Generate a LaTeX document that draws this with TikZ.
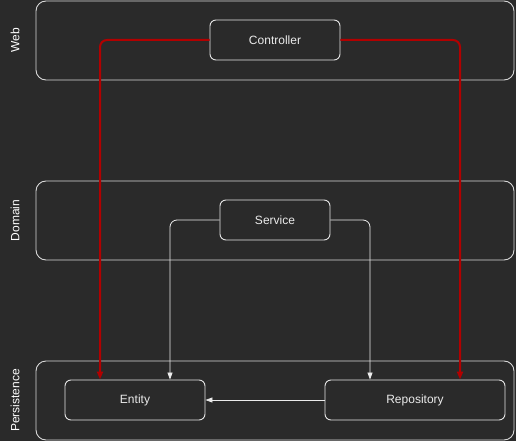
\documentclass[tikz,border=0pt]{standalone}
\usepackage{fontspec}
\setmainfont{Liberation Sans}
\usetikzlibrary{arrows.meta}
\definecolor{bgc}{HTML}{2A2A2A}
\definecolor{redc}{HTML}{B20000}
\tikzset{
  lane/.style={draw=white!85!black, line width=0.9pt, rounded corners=10pt, fill=bgc},
  lanelabel/.style={text=white, font=\fontsize{12}{14}\selectfont, rotate=90},
  box/.style={draw=white!90!black, line width=0.9pt, rounded corners=6pt, text=white!92!black, font=\fontsize{12}{14}\selectfont},
  redarrow/.style={draw=redc, line width=2pt, rounded corners=7pt, -{Triangle[length=8pt,width=6pt]}},
  whitearrow/.style={draw=white!92!black, line width=0.8pt, rounded corners=7pt, -{Triangle[length=7pt,width=5pt]}},
}
\begin{document}
\begin{tikzpicture}[x=1pt,y=-1pt]
\fill[bgc] (0,0) rectangle (516,441);
\useasboundingbox (0,0) rectangle (516,441);
% lanes
\draw[lane] (36,1) rectangle (514,80);
\draw[lane] (36,181) rectangle (514,260);
\draw[lane] (36,361) rectangle (514,440);
\node[lanelabel] (lweb) at (15,40.5) {Web};
\node[lanelabel] (ldom) at (15,220.5) {Domain};
\node[lanelabel] (lper) at (15,400.5) {Persistence};
% nodes
\node[box, minimum width=130pt, minimum height=40pt] (ctrl) at (275,40) {Controller};
\node[box, minimum width=110pt, minimum height=40pt] (svc) at (275,220) {Service};
\node[box, minimum width=140pt, minimum height=40pt] (ent) at (135,400) {Entity};
\node[box, minimum width=180pt, minimum height=40pt] (repo) at (415,400) {Repository};
% connectors
\draw[whitearrow] (svc.west) -| ([xshift=35pt]ent.north);
\draw[whitearrow] (svc.east) -| ([xshift=-45pt]repo.north);
\draw[whitearrow] (repo.west) -- (ent.east);
\draw[redarrow] (ctrl.west) -| ([xshift=-35pt]ent.north);
\draw[redarrow] (ctrl.east) -| ([xshift=45pt]repo.north);
\end{tikzpicture}
\end{document}
